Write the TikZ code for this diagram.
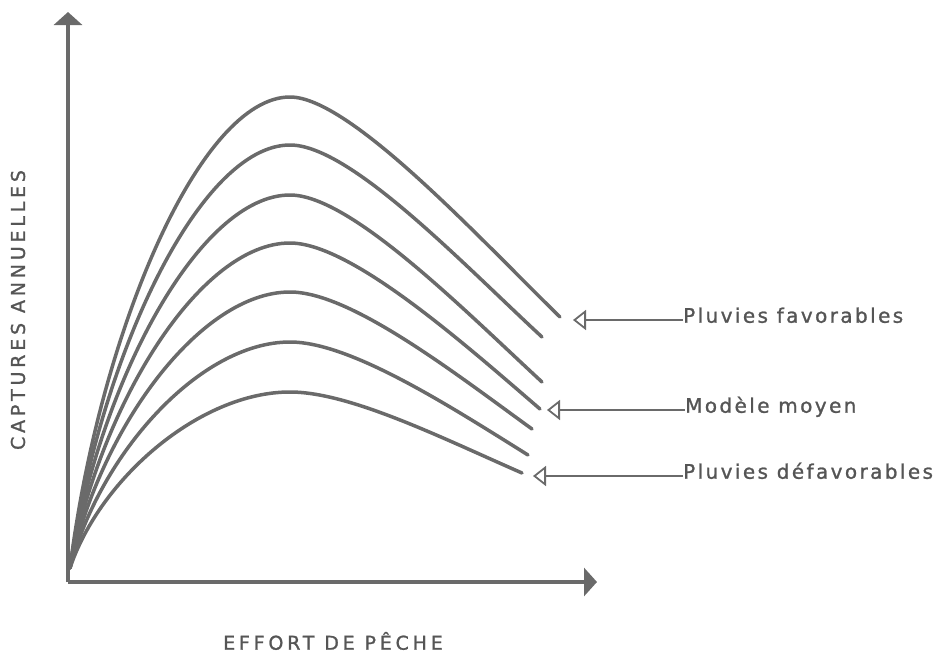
\documentclass[tikz,border=0pt]{standalone}
\usepackage{fontspec}
\setmainfont{DejaVu Sans}
\newfontfamily\labfont{DejaVu Sans}[LetterSpace=12,FakeBold=1.2]
\newfontfamily\capfont{DejaVu Sans}[LetterSpace=20,FakeBold=1.2]
\usetikzlibrary{arrows.meta}
\definecolor{ink}{HTML}{6A6A6A}
\definecolor{txt}{HTML}{555555}

\begin{document}
\begin{tikzpicture}[x=1pt,y=-1pt,
  axis/.style={ink, line width=3.5pt, -{Triangle[width=28pt,length=13pt]}},
  curve/.style={ink, line width=3.5pt, line cap=round},
  pointer/.style={ink, line width=1.8pt, -{Triangle[open,width=20pt,length=13pt]}},
  lab/.style={txt, font=\labfont\fontsize{20}{22}\selectfont, inner sep=0pt},
  caplab/.style={txt, font=\capfont\fontsize{19}{22}\selectfont, inner sep=0pt}]
\useasboundingbox (0,0) rectangle (938,656);
\coordinate (o) at (68,582);
\coordinate (s) at (70,568);
\coordinate (ytop) at (68,12);
\coordinate (xend) at (597,582);
\draw[axis] (o) -- (ytop);
\draw[axis] (o) -- (xend);
% one curve per rainfall level
\foreach \pk/\cx/\cy/\ex/\ey in {97/480/239/560/317, 145/462/263/542/337, 195/462/308/542/382, 243/460/340/540/409, 292/452/371/532/429, 342/448/405/528/455, 392/442/438/522/473}
  \draw[curve] (s) .. controls (100,{(565+\pk)/2}) and (200,\pk) .. (290,\pk) .. controls (350,\pk) and (\cx,\cy) .. (\ex,\ey);
\node[lab, anchor=mid west] (fav) at (683,320) {Pluvies favorables};
\node[lab, anchor=mid west] (moy) at (685,410) {Modèle moyen};
\node[lab, anchor=mid west] (def) at (683,476) {Pluvies défavorables};
\coordinate (tfav) at (573,320);
\coordinate (tmoy) at (547,410);
\coordinate (tdef) at (533,476);
\draw[pointer] (fav.mid west) -- (tfav);
\draw[pointer] (moy.mid west) -- (tmoy);
\draw[pointer] (def.mid west) -- (tdef);
\node[caplab] (xlab) at (333,641) {EFFORT DE PÊCHE};
\node[caplab, rotate=90] (ylab) at (18,310) {CAPTURES ANNUELLES};
\end{tikzpicture}
\end{document}
